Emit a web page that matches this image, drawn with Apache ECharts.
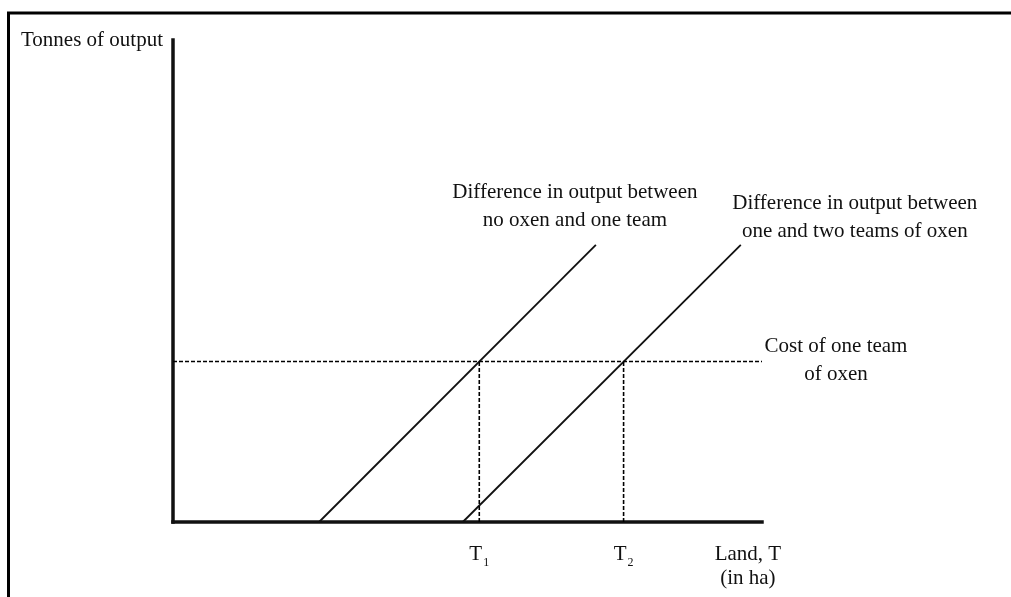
<!DOCTYPE html>
<html>
<head>
<meta charset="utf-8">
<script src="https://cdn.jsdelivr.net/npm/echarts@6/dist/echarts.min.js"></script>
<style>
html, body { margin: 0; padding: 0; background: #fff; }
#chart { width: 1011px; height: 597px; }
</style>
</head>
<body>
<div id="chart"></div>
<script>
// values (x: land, y: tonnes, both 0..100)
const noOxenOneTeam = [[24.8, 0], [71.8, 57.5]];
const oneTwoTeams = [[49.2, 0], [96.4, 57.5]];
const costLevel = 33.3;
const costSpan = [0, 100];
const landTicks = [52.0, 76.5, 97.6];
const landTickNames = ['T|1', 'T|2', 'Land, T\n(in ha)'];
const lineNames = [
    'Difference in output between\nno oxen and one team',
    'Difference in output between\none and two teams of oxen'
];
const costName = 'Cost of one team\nof oxen';
const yName = 'Tonnes of output';

const serif = '"Liberation Serif", "DejaVu Serif", serif';
const chart = echarts.init(document.getElementById('chart'));

const dashed = { color: '#000', width: 1.6, type: [4, 2] };
const textStyle = { fontFamily: serif, fontSize: 21, lineHeight: 28, color: '#111', align: 'center' };

const option = {
    backgroundColor: '#fff',
    animation: false,
    grid: { left: 173, top: 40, right: 249, bottom: 75 },
    xAxis: {
        type: 'value',
        min: 0,
        max: 100,
        splitLine: { show: false },
        axisLine: { lineStyle: { color: '#111', width: 3.5, cap: 'square' } },
        axisTick: { show: false },
        axisLabel: {
            customValues: landTicks,
            margin: 20,
            fontFamily: serif,
            fontSize: 21,
            lineHeight: 24,
            color: '#111',
            formatter: function (v) {
                const i = landTicks.indexOf(v);
                const s = landTickNames[i];
                if (s.indexOf('|') > 0) {
                    const p = s.split('|');
                    return '{t|' + p[0] + '}{s|' + p[1] + '}';
                }
                return s;
            },
            rich: {
                t: { fontFamily: serif, fontSize: 21, color: '#111' },
                s: { fontFamily: serif, fontSize: 12, color: '#111', padding: [17, 0, 0, 1] }
            }
        }
    },
    yAxis: {
        type: 'value',
        min: 0,
        max: 100,
        name: yName,
        nameLocation: 'end',
        nameGap: 0,
        nameTextStyle: {
            fontFamily: serif,
            fontSize: 21,
            color: '#111',
            align: 'right',
            verticalAlign: 'middle',
            padding: [2, 10, 0, 0]
        },
        splitLine: { show: false },
        axisLine: { lineStyle: { color: '#111', width: 3.5, cap: 'square' } },
        axisTick: { show: false },
        axisLabel: { show: false }
    },
    graphic: [{
        type: 'rect',
        shape: { x: 8.5, y: 13, width: 1100, height: 700 },
        style: { fill: 'none', stroke: '#000', lineWidth: 3 },
        silent: true
    }],
    series: [
        {
            type: 'line',
            symbol: 'none',
            lineStyle: { color: '#111', width: 1.8 },
            data: noOxenOneTeam
        },
        {
            type: 'line',
            symbol: 'none',
            lineStyle: { color: '#111', width: 1.8 },
            data: oneTwoTeams
        },
        {
            type: 'line',
            symbol: 'none',
            lineStyle: dashed,
            data: [[costSpan[0], costLevel], [costSpan[1], costLevel]]
        },
        {
            type: 'line',
            symbol: 'none',
            lineStyle: dashed,
            data: [[landTicks[0], 0], [landTicks[0], costLevel]]
        },
        {
            type: 'line',
            symbol: 'none',
            lineStyle: dashed,
            data: [[landTicks[1], 0], [landTicks[1], costLevel]]
        },
        {
            // text beside the ends of the lines
            type: 'scatter',
            symbolSize: 2,
            clip: false,
            itemStyle: { color: 'rgba(0,0,0,0)', opacity: 1 },
            silent: true,
            data: [
                {
                    value: noOxenOneTeam[1],
                    label: Object.assign({ show: true, position: [-20, -9], verticalAlign: 'bottom', formatter: lineNames[0] }, textStyle)
                },
                {
                    value: oneTwoTeams[1],
                    label: Object.assign({ show: true, position: [115, 2], verticalAlign: 'bottom', formatter: lineNames[1] }, textStyle)
                },
                {
                    value: [costSpan[1], costLevel],
                    label: Object.assign({ show: true, position: [75, 0], verticalAlign: 'middle', formatter: costName }, textStyle)
                }
            ]
        }
    ]
};
chart.setOption(option);
</script>
</body>
</html>
